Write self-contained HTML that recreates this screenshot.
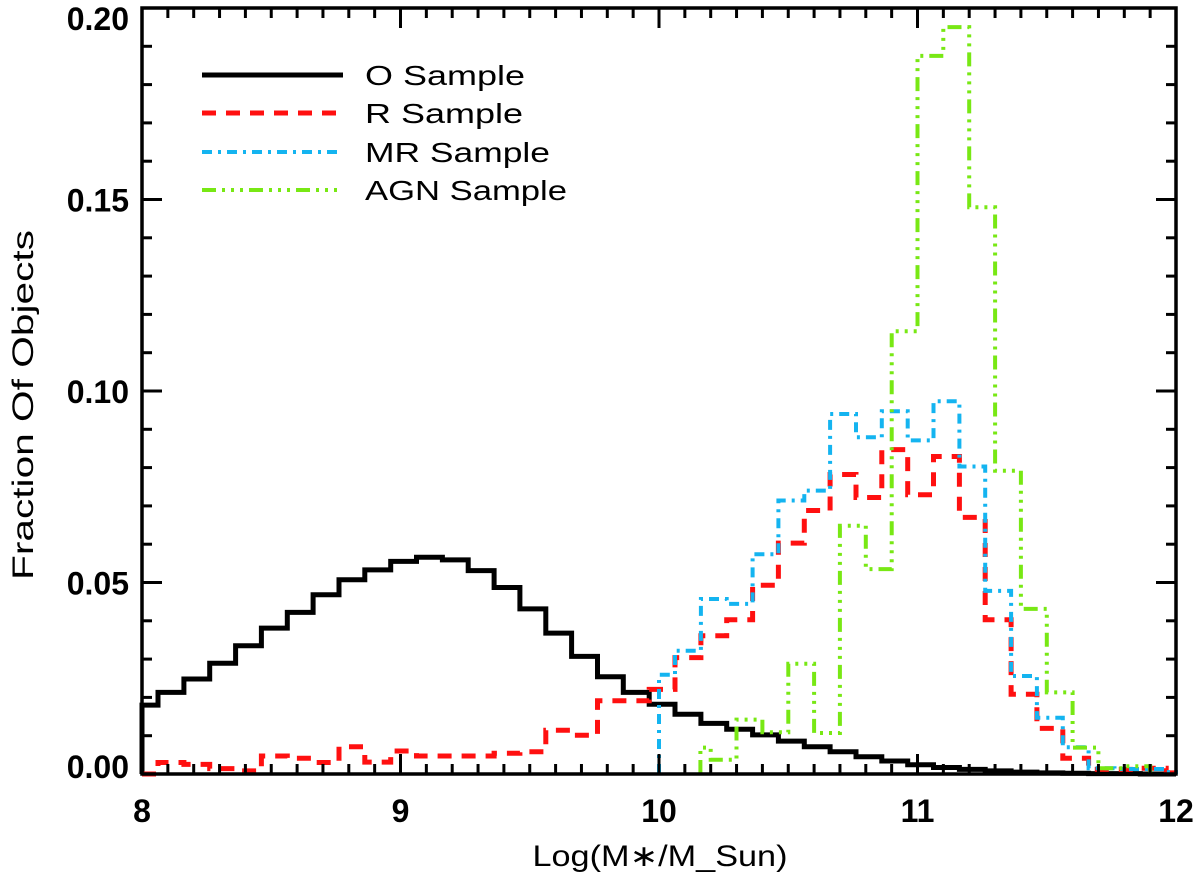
<!DOCTYPE html>
<html><head><meta charset="utf-8"><style>
html,body{margin:0;padding:0;background:#fff;}
svg{display:block;font-family:"Liberation Sans","DejaVu Sans",sans-serif;}
</style></head><body>
<svg id="chart" width="1200" height="877" xmlns="http://www.w3.org/2000/svg">
<g id="series"></g>
<g id="axes"></g>
<g id="legend"></g>
<text x="660" y="866" text-anchor="middle" font-size="30" textLength="255" lengthAdjust="spacingAndGlyphs">Log(M∗/M_Sun)</text>
<text transform="translate(33,405) rotate(-90)" text-anchor="middle" font-size="30" textLength="350" lengthAdjust="spacingAndGlyphs">Fraction Of Objects</text>
</svg>
<script>
// ---- data ----
const xTicks = [8, 9, 10, 11, 12];
const xTickLabels = ["8", "9", "10", "11", "12"];
const yTicks = [0, 0.05, 0.10, 0.15, 0.20];
const yTickLabels = ["0.00", "0.05", "0.10", "0.15", "0.20"];
const binWidth = 0.1;
const oStart = 7.962, oClip = 8.0;
const oValues = [0.018,0.0213,0.0248,0.0289,0.0335,0.0381,0.0422,0.0468,0.0507,0.0533,0.0555,0.0566,0.0559,0.0531,0.0487,0.0431,0.0368,0.0307,0.0254,0.0213,0.0182,0.0156,0.0132,0.0117,0.0102,0.0086,0.0071,0.0058,0.0045,0.0034,0.0024,0.0017,0.0012,0.0008,0.0005,0.0003,0.0002,0.0001,0.0001,0,0];
const rStart = 7.962, rClip = 8.0;
const rValues = [0.000,0.003,0.0025,0.0014,0.0008,0.0047,0.0041,0.003,0.0071,0.0031,0.006,0.0047,0.0047,0.0047,0.0054,0.0058,0.0114,0.0101,0.0191,0.0191,0.0221,0.0304,0.0361,0.0403,0.0493,0.0603,0.0688,0.0782,0.0722,0.0847,0.0729,0.0829,0.067,0.0403,0.0208,0.0119,0.0041,0.0012,0.0012,0.0015,0.0003];
const mrStart = 9.962, mrClip = 10.0;
const mrValues = [0.0259,0.0322,0.0457,0.0444,0.0574,0.0714,0.074,0.094,0.0879,0.0947,0.0871,0.0973,0.0803,0.0478,0.0256,0.0147,0.007,0.0015,0.0013,0.0013,0.0005];
const agnStart = 10.1, agnClip = 10.16;
const agnValues = [0.0069,0.0037,0.0142,0.0109,0.0288,0.0107,0.0648,0.0535,0.1156,0.1875,0.195,0.148,0.0792,0.0431,0.0213,0.0069,0.0015,0.002];
const legendLabels = ["O Sample", "R Sample", "MR Sample", "AGN Sample"];
const legendWidths = [160, 158, 185, 202];

// ---- layout ----
const L = 142, R = 1176, T = 8, B = 774;
const xMin = 8, xMax = 12, yMin = 0, yMax = 0.2;
const sx = v => L + (v - xMin) / (xMax - xMin) * (R - L);
const sy = v => B - (v - yMin) / (yMax - yMin) * (B - T);
const NS = "http://www.w3.org/2000/svg";
function mk(tag, attrs, parent) {
  const e = document.createElementNS(NS, tag);
  for (const k in attrs) e.setAttribute(k, attrs[k]);
  parent.appendChild(e);
  return e;
}
const styles = [
  {color:"#000", dash:"", w:5, name:"o-sample-line"},
  {color:"#ff1010", dash:"14 10", w:5, name:"r-sample-line"},
  {color:"#14b4f0", dash:"10 6 3 6", w:4, name:"mr-sample-line"},
  {color:"#78e814", dash:"14 6 3 6 3 6 3 6", w:4, name:"agn-sample-line"}
];
const seriesG = document.getElementById('series');
function stepPath(start, clip, vals) {
  let d = "";
  let lastX;
  vals.forEach((v, i) => {
    let x0 = Math.max(start + i * binWidth, clip);
    let x1 = Math.min(start + (i + 1) * binWidth, xMax);
    if (x1 <= x0) return;
    if (i === 0) d += "M" + sx(x0).toFixed(1) + "," + sy(0).toFixed(1) + " ";
    d += "L" + sx(x0).toFixed(1) + "," + sy(v).toFixed(1) + " L" + sx(x1).toFixed(1) + "," + sy(v).toFixed(1) + " ";
    lastX = x1;
  });
  d += "L" + sx(lastX).toFixed(1) + "," + sy(0).toFixed(1);
  return d;
}
const allSeries = [[oStart,oClip,oValues],[rStart,rClip,rValues],[mrStart,mrClip,mrValues],[agnStart,agnClip,agnValues]];
allSeries.forEach((s, i) => {
  const st = styles[i];
  const p = mk('path', {d: stepPath(s[0], s[1], s[2]), fill:"none", stroke: st.color, "stroke-width": st.w, "stroke-dasharray": st.dash, "stroke-linejoin":"miter"}, seriesG);
  
  
});

// ---- axes ----
const ax = document.getElementById('axes');
const frame = mk('rect', {x:L, y:T, width:R-L, height:B-T, fill:"none", stroke:"#000", "stroke-width":3.5}, ax);


for (let k = 0; k <= 40; k++) {
  const v = xMin + k * 0.1;
  const len = (k % 10 === 0) ? 20 : 10;
  const x = sx(v);
  const t1 = mk('line', {x1:x, y1:B, x2:x, y2:B-len, stroke:"#000", "stroke-width":3}, ax);
  
  
  const t2 = mk('line', {x1:x, y1:T, x2:x, y2:T+len, stroke:"#000", "stroke-width":3}, ax);
  
  
}
for (let k = 0; k <= 20; k++) {
  const v = yMin + k * 0.01;
  const len = (k % 5 === 0) ? 20 : 10;
  const y = sy(v);
  const t1 = mk('line', {x1:L, y1:y, x2:L+len, y2:y, stroke:"#000", "stroke-width":3}, ax);
  
  
  const t2 = mk('line', {x1:R, y1:y, x2:R-len, y2:y, stroke:"#000", "stroke-width":3}, ax);
  
  
}
xTicks.forEach((v, i) => {
  const t = mk('text', {x:sx(v), y:822, "text-anchor":"middle", "font-size":32, "font-weight":"bold"}, ax);
  t.textContent = xTickLabels[i];
  
  
});
yTicks.forEach((v, i) => {
  const y = sy(v) + 12 + (v === 0 ? -8 : 0) + (v === 0.2 ? 10 : 0);
  const t = mk('text', {x:129, y:y, "text-anchor":"end", "font-size":32, "font-weight":"bold"}, ax);
  t.textContent = yTickLabels[i];
  
  
});

// ---- legend ----
const lg = document.getElementById('legend');
const legY = [75, 113, 152, 190];
legendLabels.forEach((lab, i) => {
  const st = styles[i];
  const g = mk('g', {}, lg);
  
  
  const ln = mk('line', {x1:202, y1:legY[i], x2:343, y2:legY[i], stroke:st.color, "stroke-width":st.w, "stroke-dasharray":st.dash}, g);
  
  
  const t = mk('text', {x:365, y:legY[i]+10, "font-size":28, textLength:legendWidths[i], lengthAdjust:"spacingAndGlyphs"}, g);
  t.textContent = lab;
  
  
});
</script>
</body></html>
